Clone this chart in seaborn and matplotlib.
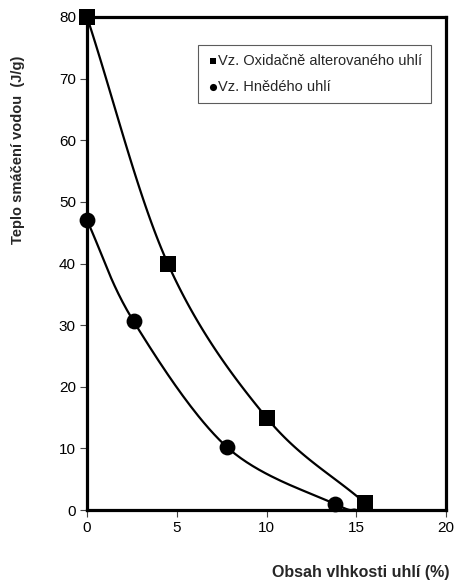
import numpy as np
import pandas as pd
import matplotlib
matplotlib.use("Agg")
import matplotlib.pyplot as plt
import seaborn as sns

# Oxidised (altered) coal sample
oxid_x = [0.0, 4.5, 10.0, 15.5]
oxid_y = [80.0, 40.0, 15.0, 1.1]
# Brown coal sample (curve runs on to the zero line)
hned_x = [0.0, 2.6, 7.8, 13.8]
hned_y = [47.0, 30.6, 10.2, 1.0]
hned_end = (15.0, 0.0)

x_ticks = [0, 5, 10, 15, 20]
y_ticks = [0, 10, 20, 30, 40, 50, 60, 70, 80]

label_oxid = "Vz. Oxidačně alterovaného uhlí"
label_hned = "Vz. Hnědého uhlí"


def smooth(xs, ys, n=40):
    """Catmull-Rom style smoothed polyline through the given points."""
    p = np.column_stack([xs, ys]).astype(float)
    p_ext = np.vstack([p[0] - (p[1] - p[0]), p, p[-1] + (p[-1] - p[-2])])
    out = []
    for i in range(1, len(p_ext) - 2):
        p0, p1, p2, p3 = p_ext[i - 1], p_ext[i], p_ext[i + 1], p_ext[i + 2]
        c1 = p1 + (p2 - p0) / 6.0
        c2 = p2 - (p3 - p1) / 6.0
        t = np.linspace(0, 1, n)[:, None]
        seg = ((1 - t) ** 3) * p1 + 3 * ((1 - t) ** 2) * t * c1 \
            + 3 * (1 - t) * t ** 2 * c2 + t ** 3 * p2
        out.append(seg if i == 1 else seg[1:])
    s = np.vstack(out)
    return s[:, 0], s[:, 1]


sns.set_theme(style="white")
plt.rcParams["font.family"] = ["Liberation Sans", "DejaVu Sans"]

fig = plt.figure(figsize=(4.54, 5.82), dpi=100)
ax = fig.add_axes([87 / 454, 1 - 510 / 582, (446 - 87) / 454, (510 - 17) / 582])

ox_cx, ox_cy = smooth(oxid_x, oxid_y)
hn_cx, hn_cy = smooth(hned_x + [hned_end[0]], hned_y + [hned_end[1]])
curves = pd.concat([
    pd.DataFrame({"x": ox_cx, "y": ox_cy, "s": "oxid"}),
    pd.DataFrame({"x": hn_cx, "y": hn_cy, "s": "hned"}),
])
sns.lineplot(data=curves, x="x", y="y", units="s", estimator=None, sort=False,
             color="black", linewidth=1.6, ax=ax, legend=False)

ox_df = pd.DataFrame({"x": oxid_x, "y": oxid_y})
hn_df = pd.DataFrame({"x": hned_x, "y": hned_y})
sns.scatterplot(data=ox_df, x="x", y="y", marker="s", s=120, color="black",
                edgecolor="black", linewidth=0, ax=ax, label=label_oxid,
                clip_on=False, zorder=5)
sns.scatterplot(data=hn_df, x="x", y="y", marker="o", s=130, color="black",
                edgecolor="black", linewidth=0, ax=ax, label=label_hned,
                clip_on=False, zorder=5)

ax.set_xlim(0, 20)
ax.set_ylim(0, 80)
ax.set_xticks(x_ticks)
ax.set_yticks(y_ticks)
ax.set_xticklabels([str(v) for v in x_ticks])
ax.set_yticklabels([str(v) for v in y_ticks])
ax.tick_params(axis="both", which="major", direction="out", length=5,
               width=0.8, color="#444444", labelsize=11, labelcolor="black",
               bottom=True, left=True, pad=3)
ax.grid(False)
for sp in ax.spines.values():
    sp.set_visible(True)
    sp.set_color("black")
    sp.set_linewidth(2.3)
ax.set_xlabel("")
ax.set_ylabel("")

leg = ax.legend(loc="upper left", bbox_to_anchor=((198 - 87) / 359, 1 - (45 - 17) / 493),
                frameon=True, fancybox=False, edgecolor="#333333", fontsize=10.5,
                handletextpad=0.0, handlelength=0.8, markerscale=0.45,
                borderpad=0.6, labelspacing=0.85, borderaxespad=0)
leg.get_frame().set_linewidth(0.8)

fig.text(18 / 454, 1 - 150 / 582, "Teplo smáčení vodou  (J/g)", rotation=90,
         ha="center", va="center", fontsize=10.5, fontweight="bold")
fig.text(449 / 454, 1 - 573 / 582, "Obsah vlhkosti uhlí (%)",
         ha="right", va="center", fontsize=11.5, fontweight="bold")

fig.savefig("out.png", dpi=100, facecolor="white")
